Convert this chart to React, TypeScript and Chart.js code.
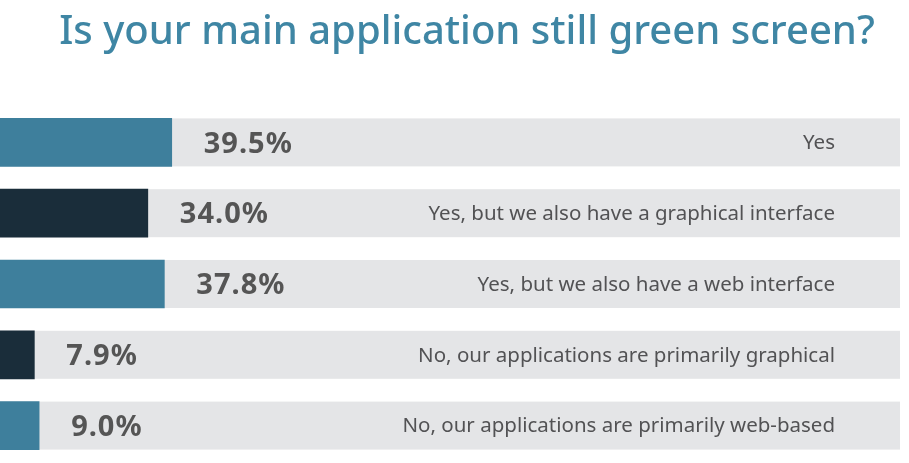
import React, { useEffect, useRef } from "react";
import { Chart, registerables } from "chart.js";

Chart.register(...registerables);

const TITLE = "Is your main application still green screen?";
const categories = [
  "Yes",
  "Yes, but we also have a graphical interface",
  "Yes, but we also have a web interface",
  "No, our applications are primarily graphical",
  "No, our applications are primarily web-based",
];
const values = [39.5, 34.0, 37.8, 7.9, 9.0];
const valueLabels = ["39.5%", "34.0%", "37.8%", "7.9%", "9.0%"];
const barColors = ["#3E7F9C", "#1A2D3A", "#3E7F9C", "#1A2D3A", "#3E7F9C"];
const X_MAX = 207;

const decorPlugin = {
  id: "decor",
  beforeDatasetsDraw(chart: any) {
    const { ctx, chartArea } = chart;
    const meta = chart.getDatasetMeta(0);
    ctx.save();
    ctx.fillStyle = "#E4E5E7";
    meta.data.forEach((el: any) => {
      const { y, height } = el.getProps(["y", "height"], true);
      ctx.fillRect(chartArea.left, y - height / 2, chartArea.right - chartArea.left, height);
    });
    ctx.restore();
  },
  afterDatasetsDraw(chart: any) {
    const { ctx, chartArea } = chart;
    const meta = chart.getDatasetMeta(0);
    ctx.save();
    meta.data.forEach((el: any, i: number) => {
      const { x, y } = el.getProps(["x", "y"], true);
      ctx.fillStyle = "#555555";
      ctx.font = "bold 29px 'Noto Sans'";
      (ctx as any).letterSpacing = "1px";
      ctx.textAlign = "left";
      ctx.textBaseline = "middle";
      ctx.fillText(valueLabels[i], x + 32, y + 2);
      (ctx as any).letterSpacing = "0px";
      ctx.fillStyle = "#525254";
      ctx.font = "20.5px 'Noto Sans'";
      ctx.textAlign = "right";
      ctx.fillText(categories[i], chartArea.right - 65, y + 1);
    });
    ctx.fillStyle = "#3F86A4";
    ctx.font = "500 40px 'Noto Sans'";
    ctx.textAlign = "center";
    ctx.textBaseline = "alphabetic";
    ctx.fillText(TITLE, 467, 44);
    ctx.restore();
  },
};

export default function App() {
  const ref = useRef<HTMLCanvasElement>(null);
  useEffect(() => {
    if (!ref.current) return;
    const chart = new Chart(ref.current, {
      type: "bar",
      data: {
        labels: categories,
        datasets: [
          {
            data: values,
            backgroundColor: barColors,
            borderWidth: 0,
            barThickness: 48,
          },
        ],
      },
      options: {
        indexAxis: "y",
        animation: false,
        responsive: false,
        layout: { padding: { top: 107, bottom: 2, left: 0, right: 9 } },
        plugins: { legend: { display: false }, tooltip: { enabled: false }, title: { display: false } },
        scales: {
          x: { display: false, min: 0, max: X_MAX },
          y: { display: false },
        },
      },
      plugins: [decorPlugin],
    } as any);
    return () => chart.destroy();
  }, []);
  return (
    <div style={{ position: "absolute", left: 0, top: 0, width: 909, height: 463, background: "#fff" }}>
      <canvas ref={ref} width={909} height={463} />
    </div>
  );
}
